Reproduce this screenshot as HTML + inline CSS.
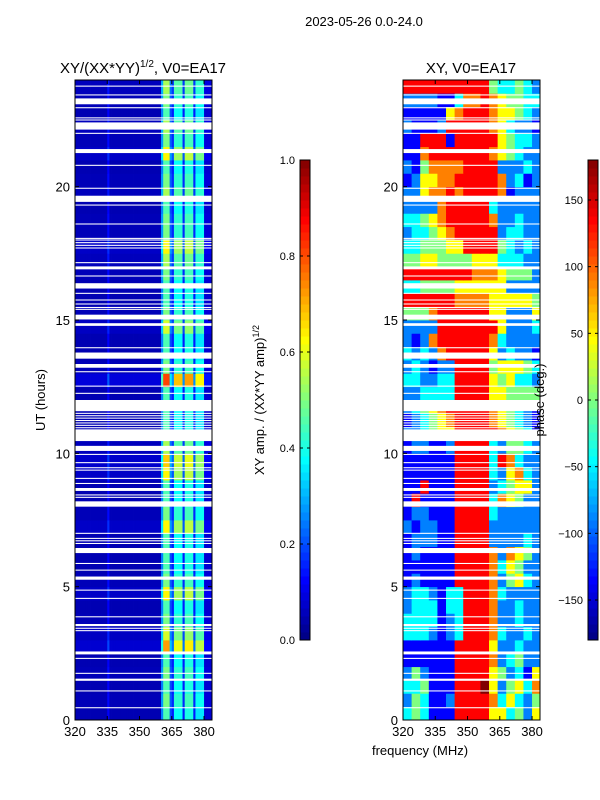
<!DOCTYPE html>
<html><head><meta charset="utf-8">
<style>
body{margin:0;background:#fff;}
svg{display:block;font-family:"Liberation Sans",sans-serif;}
</style></head>
<body>
<svg id="fig" width="600" height="800" xmlns="http://www.w3.org/2000/svg">
<rect width="600" height="800" fill="#fff"/>
<text x="364" y="26" font-size="13" text-anchor="middle">2023-05-26 0.0-24.0</text>
<text x="143" y="73" font-size="15" text-anchor="middle">XY/(XX*YY)<tspan font-size="10" dy="-6">1/2</tspan><tspan dy="6">, V0=EA17</tspan></text>
<text x="471" y="73" font-size="15" text-anchor="middle">XY, V0=EA17</text>
<text x="45" y="400" font-size="13" text-anchor="middle" transform="rotate(-90 45 400)">UT (hours)</text>
<text x="420" y="755" font-size="13" text-anchor="middle">frequency (MHz)</text>
<text x="264" y="400" font-size="13" text-anchor="middle" transform="rotate(-90 264 400)">XY amp. / (XX*YY amp)<tspan font-size="9" dy="-5">1/2</tspan></text>
<g id="left"></g>
<g id="right"></g>
<g id="cb1"></g>
<g id="cb2"></g>
<text x="544" y="400" font-size="13" text-anchor="middle" transform="rotate(-90 544 400)">phase (deg.)</text>
</svg>
<script>
// ---- data ----
const freqMin = 320, freqMax = 383.7;
const timeMin = 0, timeMax = 24;
const xTicks = [320, 335, 350, 365, 380];
const yTicks = [0, 5, 10, 15, 20];
const ampTicks = [0.0, 0.2, 0.4, 0.6, 0.8, 1.0];
const phaseTicks = [-150, -100, -50, 0, 50, 100, 150];
// amplitude: per-1MHz column profile (320..383)
const ampProfile = [
0.05,0.05,0.05,0.05,0.05,0.05,0.05,0.05,0.05,0.05,0.05,0.05,0.05,0.05,0.05,0.12,
0.05,0.05,0.05,0.05,0.05,0.05,0.05,0.05,0.05,0.05,0.05,0.05,0.05,0.05,0.05,0.05,
0.05,0.05,0.05,0.05,0.05,0.05,0.05,0.05,0.25,0.45,0.45,0.45,0.2,0.15,0.38,0.38,
0.38,0.38,0.15,0.4,0.4,0.4,0.4,0.15,0.35,0.35,0.35,0.35,0.08,0.08,0.08,0.08];
// amplitude: per-0.5h row gain (row 0 = 0-0.5h)
const ampRowGain = [1,1.1,1,1.1,1,1.6,1.3,1.1,1,1.4,1.1,1,1,1,1.4,1.1,1,1,1.4,1.5,1.2,1,1,1,
1,1.8,1.1,1,1,1.3,1.1,1,1,1.1,1.2,1.4,1.1,1.1,1,1.2,1.1,1,1.4,1.1,1.2,1,1.1,1.2];
// phase grid: 48 rows (0.5h) x 16 cols (4 MHz); digit d -> -180 + 45*d deg
const phaseRows = [
"3431117777553425","2431127777635324","3341117778524536","2421117777542315","1111117777623422",
"1111117777522322","3332123777632232","3333123777622322","2333133777622322","2332133777632222",
"1211117777624532","1111117777635422","1211117777626542","1222117777222232","2122117777222222",
"1221117777322222","1711117777365422","1171117777234552","1111117777325632","1111117777376322",
"1221127777324432","2234557777765431","1234567777654321","2345677777654321","2233337777554444",
"3322337777545332","2321227777455543","3232677777523221","2126777777632222","2222777777752223",
"4446777777552225","7777776666555554","3344445555552222","7777777766654442","4455444455533322",
"3344455777743232","2334567777723322","3345677777622322","2222677777322222","2256676777761222",
"1255667777762312","2146666777722232","1167777777654322","1177717777754332","2111277777653221",
"1111156777655432","2222113667654433","7777777777433432"];
// missing-data gaps [start hour, end hour]
const gaps = [
[0.44,0.48],[1.07,1.11],[1.47,1.55],[1.73,1.77],[2.29,2.33],[2.46,2.57],[3.33,3.37],[3.42,3.46],[3.52,3.6],[3.85,3.89],
[4.54,4.58],[4.85,4.89],[5.26,5.38],[5.6,5.64],[5.85,5.89],[6.26,6.45],[6.6,6.64],[6.7,6.74],[6.79,6.83],[6.98,7.02],
[8.0,8.2],[8.33,8.37],[8.42,8.46],[8.59,8.7],[8.85,8.89],[9.04,9.08],[9.35,9.39],[9.44,9.48],[9.63,9.67],[9.94,9.98],
[10.09,10.28],[10.46,10.9],[10.94,10.98],[11.03,11.07],[11.12,11.16],[11.21,11.25],[11.3,11.34],[11.39,11.43],[11.48,11.52],[11.58,12.0],
[12.23,12.27],[12.5,12.54],[13.04,13.08],[13.21,13.35],[13.55,13.78],[13.94,13.98],[14.78,14.88],[15.02,15.2],[15.38,15.42],[15.45,15.49],
[15.58,15.62],[15.73,15.77],[15.98,16.02],[16.18,16.38],[16.63,16.67],[16.9,17.01],[17.13,17.17],[17.68,17.72],[17.78,17.82],[17.88,17.92],
[17.98,18.02],[18.04,18.08],[18.58,18.62],[19.29,19.33],[19.43,19.66],[19.92,19.96],[20.78,20.82],[21.26,21.41],[21.98,22.02],[22.14,22.41],
[22.48,22.52],[22.56,22.6],[22.94,22.98],[23.09,23.31],[23.42,23.46],[23.75,23.79]];

// ---- helpers ----
const NS = "http://www.w3.org/2000/svg";
function mk(tag, attrs, parent){const e=document.createElementNS(NS,tag);for(const k in attrs)e.setAttribute(k,attrs[k]);parent.appendChild(e);return e;}
function jet(v){v=Math.max(0,Math.min(1,v));
 const r=Math.max(0,Math.min(1,1.5-Math.abs(4*v-3))),g=Math.max(0,Math.min(1,1.5-Math.abs(4*v-2))),b=Math.max(0,Math.min(1,1.5-Math.abs(4*v-1)));
 return `rgb(${Math.round(r*255)},${Math.round(g*255)},${Math.round(b*255)})`;}

function makePanel(gid, x0){
 const g=document.getElementById(gid);
 const W=137, Y0=80, H=640;
 const xs=f=>x0+(f-freqMin)/(freqMax-freqMin)*W;
 const ys=t=>Y0+H-(t-timeMin)/(timeMax-timeMin)*H;
 return {g,W,Y0,H,xs,ys,x0};
}
function axes(p){
 const {g,W,Y0,H,xs,ys,x0}=p;
 // gaps
 gaps.forEach(gp=>{
  const r=mk('rect',{x:x0,y:ys(gp[1]),width:W,height:Math.max(1,ys(gp[0])-ys(gp[1])),fill:'#fff'},g);
  
  
 });
 mk('rect',{x:x0,y:Y0,width:W,height:H,fill:'none',stroke:'#000','stroke-width':1},g);
 xTicks.forEach(t=>{
  const x=xs(t);
  mk('line',{x1:x,x2:x,y1:Y0+H,y2:Y0+H-4,stroke:'#000'},g);
  mk('line',{x1:x,x2:x,y1:Y0,y2:Y0+4,stroke:'#000'},g);
  const tx=mk('text',{x:x,y:Y0+H+16,'font-size':13,'text-anchor':'middle'},g);tx.textContent=t;
  
  
 });
 yTicks.forEach(t=>{
  const y=ys(t);
  mk('line',{x1:x0,x2:x0+4,y1:y,y2:y,stroke:'#000'},g);
  mk('line',{x1:x0+W,x2:x0+W-4,y1:y,y2:y,stroke:'#000'},g);
  const tx=mk('text',{x:x0-5,y:y+5,'font-size':13,'text-anchor':'end'},g);tx.textContent=t;
  
  
 });
}

// left amplitude panel
const L=makePanel('left',75);
ampRowGain.forEach((gain,ri)=>{
 ampProfile.forEach((pv,ci)=>{
  const v=Math.min(1,pv*gain);
  const x1=L.xs(freqMin+ci), x2=L.xs(Math.min(freqMax,freqMin+ci+1));
  if(x2<=x1) return;
  const c=mk('rect',{x:x1,y:L.ys((ri+1)*0.5),width:x2-x1+0.4,height:L.ys(ri*0.5)-L.ys((ri+1)*0.5)+0.4,fill:jet(v)},L.g);
  
  
 });
});
axes(L);

// right phase panel
const R=makePanel('right',403);
phaseRows.forEach((row,ri)=>{
 for(let ci=0;ci<row.length;ci++){
  const ph=-180+45*Number(row[ci]);
  const f1=freqMin+ci*4, f2=Math.min(freqMax,f1+4);
  const c=mk('rect',{x:R.xs(f1),y:R.ys((ri+1)*0.5),width:R.xs(f2)-R.xs(f1)+0.4,height:R.ys(ri*0.5)-R.ys((ri+1)*0.5)+0.4,fill:jet((ph+180)/360)},R.g);
  
  
 }
});
axes(R);

// colorbars
function colorbar(gid,x,min,max,ticks,fmt){
 const g=document.getElementById(gid);
 const top=160,h=480,w=10;
 const N=60;
 for(let i=0;i<N;i++){
  mk('rect',{x:x,y:top+h-(i+1)*h/N,width:w,height:h/N+0.5,fill:jet((i+0.5)/N)},g);
 }
 mk('rect',{x:x,y:top,width:w,height:h,fill:'none',stroke:'#000'},g);
 ticks.forEach(t=>{
  const y=top+h-(t-min)/(max-min)*h;
  mk('line',{x1:x+w-3,x2:x+w,y1:y,y2:y,stroke:'#000'},g);
  mk('line',{x1:x,x2:x+3,y1:y,y2:y,stroke:'#000'},g);
  const tx=mk('text',{x:x-5,y:y+4,'font-size':11,'text-anchor':'end'},g);tx.textContent=fmt(t);
  
  
 });
}
colorbar('cb1',300,0,1,ampTicks,t=>t.toFixed(1));
colorbar('cb2',588,-180,180,phaseTicks,t=>t<0?'\u2212'+Math.abs(t):String(t));
</script>
</body></html>
